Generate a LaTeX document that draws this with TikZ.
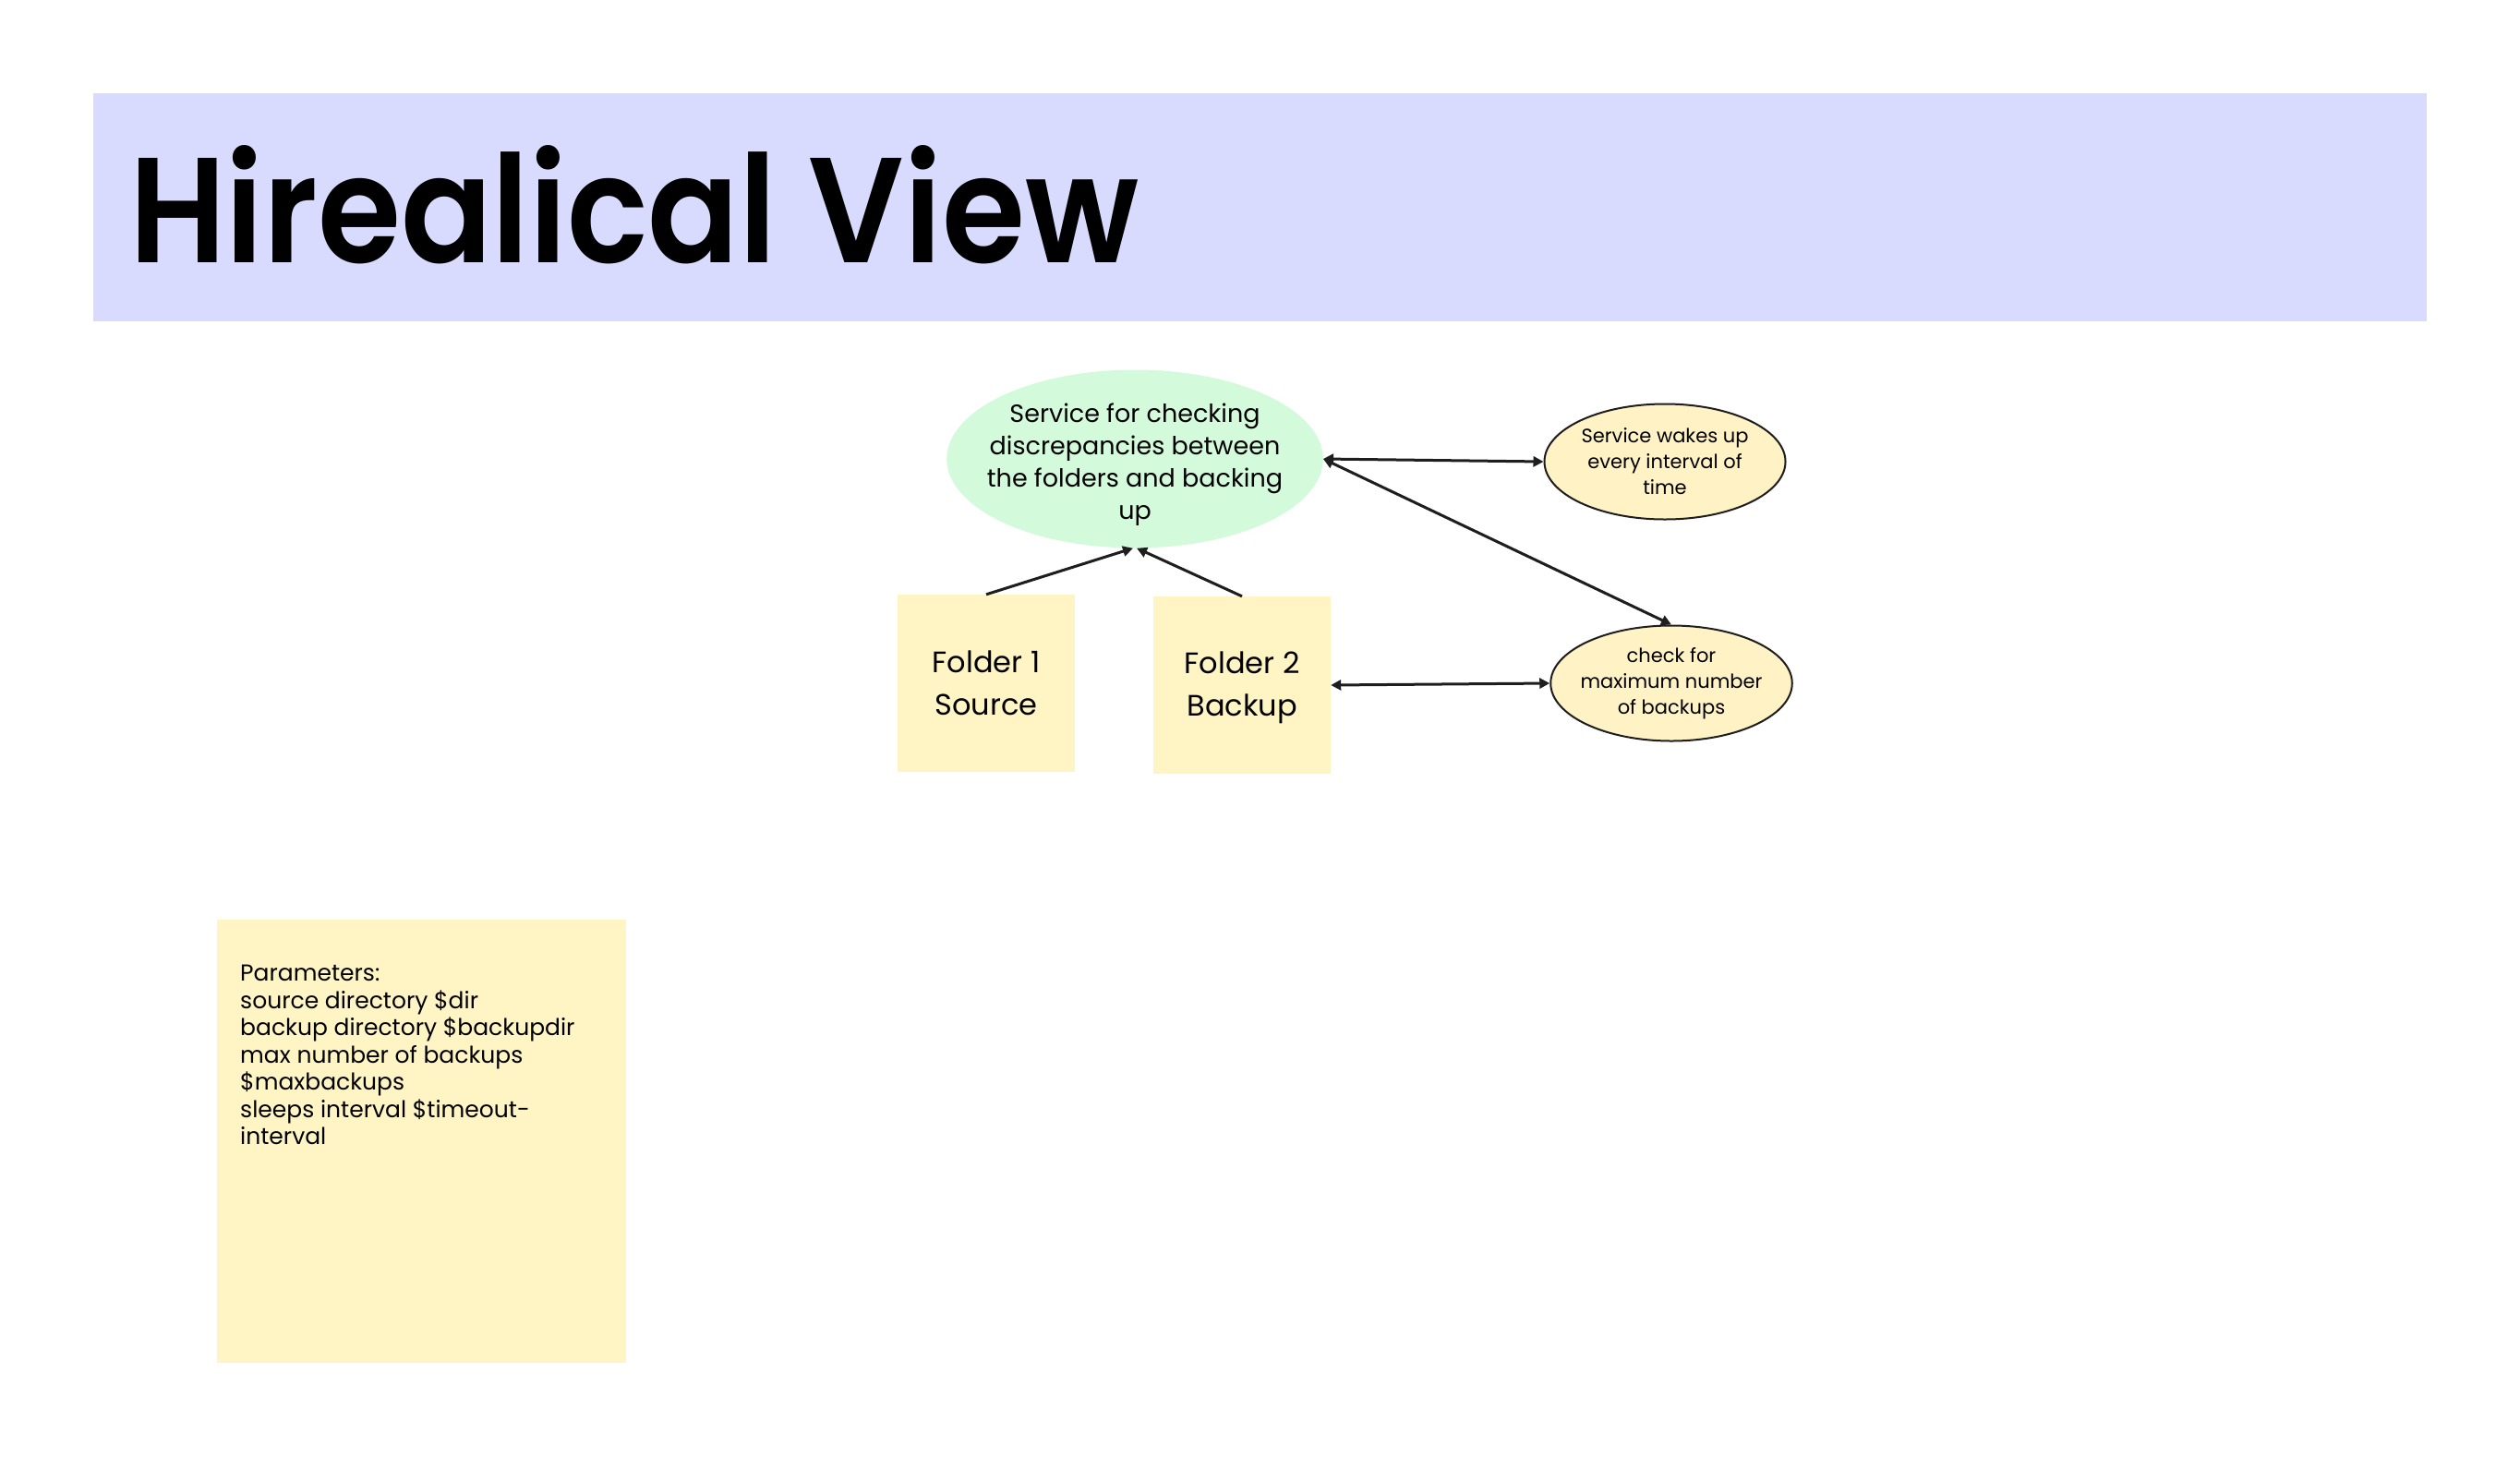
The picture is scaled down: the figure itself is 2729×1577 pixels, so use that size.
\documentclass[tikz,border=0pt]{standalone}
\usepackage{fontspec}
\usepackage{graphicx}
\setmainfont{Poppins}
\newfontfamily\titlefont{Poppins SemiBold}
\usetikzlibrary{shapes.geometric,arrows.meta}
\definecolor{bandcol}{HTML}{D8DAFE}
\definecolor{mint}{HTML}{D4FADC}
\definecolor{sticky}{HTML}{FFF4C4}
\definecolor{pale}{HTML}{FFF2C4}
\definecolor{ink}{HTML}{1E1E1E}
\tikzset{
  mainell/.style={ellipse, fill=mint, inner xsep=-16pt, inner ysep=-5pt, minimum width=404pt, minimum height=193pt, align=center, font=\fontsize{27}{35}\selectfont},
  smallell/.style={ellipse, draw=ink, line width=2pt, fill=pale, inner xsep=-6pt, inner ysep=0pt, minimum width=261pt, minimum height=125pt, align=center, font=\fontsize{21}{28}\selectfont},
  folder/.style={rectangle, fill=sticky, inner sep=0pt, minimum size=192pt, align=center, font=\fontsize{32}{46}\selectfont},
  conn/.style={draw=ink, line width=3pt, -{Triangle[length=11pt,width=11pt]}},
  dconn/.style={draw=ink, line width=3pt, {Triangle[length=11pt,width=11pt]}-{Triangle[length=11pt,width=11pt]}}
}
\begin{document}
\begin{tikzpicture}[x=1pt,y=-1pt]
\path[use as bounding box, fill=white] (0,0) rectangle (2729,1577);
\node[rectangle, fill=bandcol, inner sep=0pt, minimum width=2527pt, minimum height=247pt, anchor=north west] (band) at (101,101) {};
\node[anchor=base west, inner sep=0pt, font=\fontsize{162}{170}\titlefont] (title) at (140,284) {\scalebox{0.9}[1]{Hirealical View}};

\node[mainell] (svc) at (1229,497) {\rule{0pt}{32pt}Service for checking\\discrepancies between\\the folders and backing\\up};
\node[smallell] (wake) at (1803,500) {Service wakes up\\every interval of\\time};
\node[smallell] (maxb) at (1810,740) {check for\\maximum number\\of backups};
\node[folder] (f1) at (1068,740) {Folder 1\\Source};
\node[folder] (f2) at (1345,742) {\rule{0pt}{29pt}Folder 2\\Backup};

\draw[conn] (f1.north) -- ([xshift=-2pt]svc.south);
\draw[conn] (f2.north) -- ([xshift=2pt]svc.south);
\draw[dconn] (svc.east) -- (wake.west);
\draw[dconn] (svc.east) -- (maxb.north);
\draw[dconn] (f2.east) -- (maxb.west);

\node[rectangle, fill=sticky, inner sep=0pt, minimum width=443pt, minimum height=480pt, anchor=north west] (note) at (235,996) {};
\node[anchor=north west, inner sep=0pt, align=left, font=\fontsize{25}{29.5}\selectfont] (params) at (260,1045) {Parameters:\\source directory \$dir\\backup directory \$backupdir\\max number of backups\\\$maxbackups\\sleeps interval \$timeout-\\interval};
\end{tikzpicture}
\end{document}
